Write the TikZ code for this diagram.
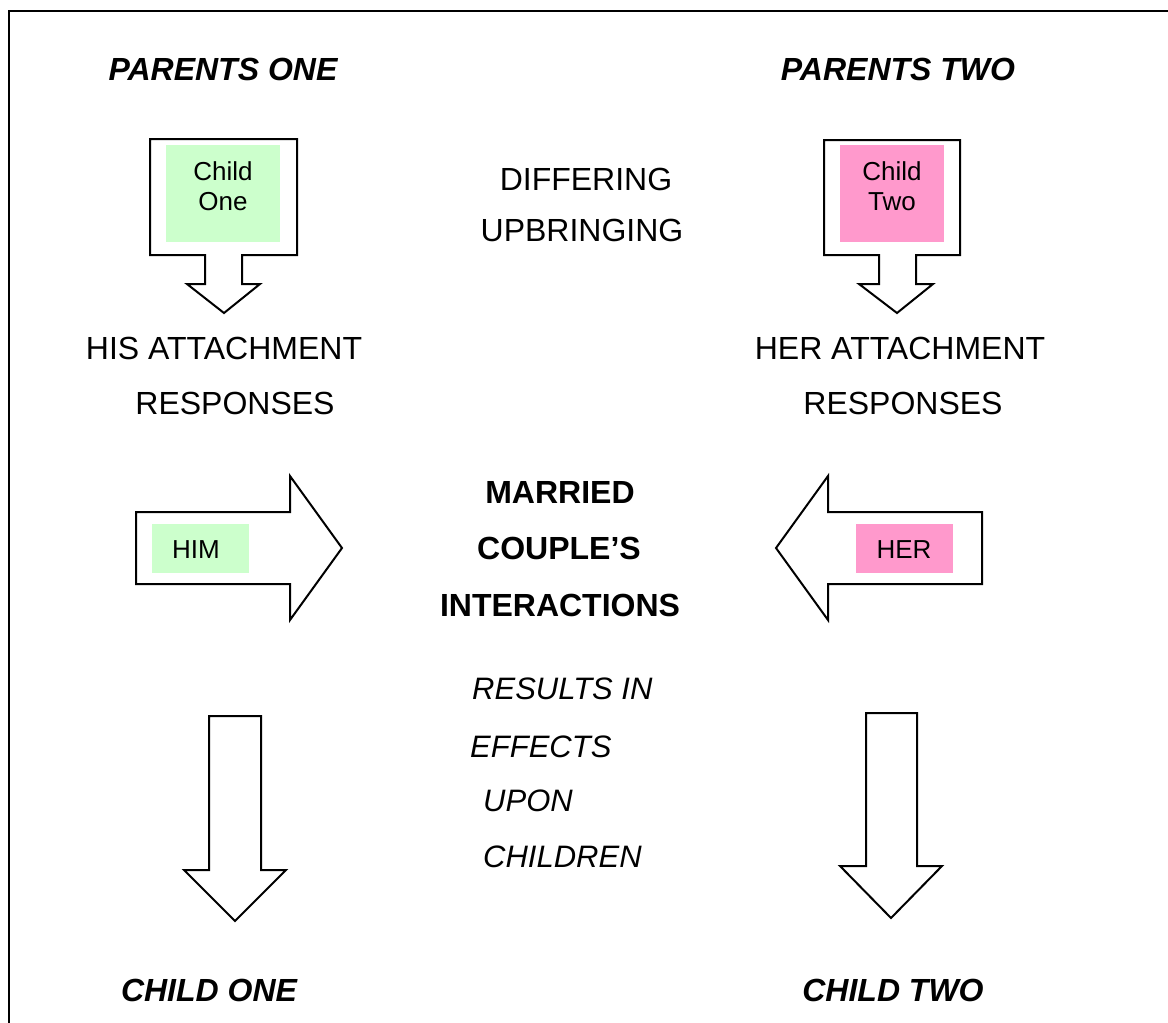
\documentclass[tikz,border=0pt]{standalone}
\usepackage{fontspec}
\setmainfont{Liberation Sans}
\definecolor{lgreen}{RGB}{204,255,204}
\definecolor{lpink}{RGB}{255,153,204}
\begin{document}
\begin{tikzpicture}[x=1pt,y=-1pt,
  big/.style={anchor=base,inner sep=0pt,font=\fontsize{32}{38}\selectfont},
  bigb/.style={big,font=\fontsize{32}{38}\selectfont\bfseries},
  bigbi/.style={big,font=\fontsize{32}{38}\selectfont\bfseries\itshape},
  bigi/.style={anchor=base west,inner sep=0pt,font=\fontsize{31}{38}\selectfont\itshape},
  small/.style={anchor=base,inner sep=0pt,font=\fontsize{26}{30}\selectfont},
  shp/.style={draw=black,line width=2pt,fill=white,line join=miter},
  frm/.style={draw=black,line width=2.5pt}]
\useasboundingbox (0,0) rectangle (1168,1023);
% frame
\draw[frm] (9,1023) -- (9,11) -- (1168,11);
% titles
\node[bigbi] (p1) at (223,80) {PARENTS ONE};
\node[bigbi] (p2) at (898,80) {PARENTS TWO};
% top callouts
\draw[shp] (150,139) -- (297,139) -- (297,255) -- (242,255) -- (242,284) -- (260,284) -- (224,313) -- (187,284) -- (205,284) -- (205,255) -- (150,255) -- cycle;
\fill[lgreen] (166,145) rectangle (280,242);
\node[small] (c1a) at (223,180) {Child};
\node[small] (c1b) at (223,210) {One};
\draw[shp] (824,140) -- (960,140) -- (960,255) -- (916,255) -- (916,284) -- (933,284) -- (897,313) -- (859,284) -- (879,284) -- (879,255) -- (824,255) -- cycle;
\fill[lpink] (840,145) rectangle (944,242);
\node[small] (c2a) at (892,180) {Child};
\node[small] (c2b) at (892,210) {Two};
% differing
\node[big] (d1) at (586,190) {DIFFERING};
\node[big] (d2) at (582,241) {UPBRINGING};
% attachment
\node[big] (h1) at (224,359) {HIS ATTACHMENT};
\node[big] (h2) at (235,414) {RESPONSES};
\node[big] (s1) at (900,359) {HER ATTACHMENT};
\node[big] (s2) at (903,414) {RESPONSES};
% middle arrows
\draw[shp] (136,512) -- (290,512) -- (290,476) -- (342,548) -- (290,620) -- (290,584) -- (136,584) -- cycle;
\fill[lgreen] (152,524) rectangle (249,573);
\node[small] (him) at (196,558) {HIM};
\draw[shp] (982,512) -- (828,512) -- (828,476) -- (776,548) -- (828,620) -- (828,584) -- (982,584) -- cycle;
\fill[lpink] (856,524) rectangle (953,573);
\node[small] (her) at (904,558) {HER};
% married
\node[bigb] (m1) at (560,503) {MARRIED};
\node[bigb] (m2) at (559,559) {COUPLE’S};
\node[bigb] (m3) at (560,616) {INTERACTIONS};
% results
\node[bigi] (r1) at (472,699) {RESULTS IN};
\node[bigi] (r2) at (470,757) {EFFECTS};
\node[bigi] (r3) at (483,811) {UPON};
\node[bigi] (r4) at (483,867) {CHILDREN};
% bottom arrows
\draw[shp] (209,716) -- (261,716) -- (261,870) -- (286,870) -- (235,921) -- (184,870) -- (209,870) -- cycle;
\draw[shp] (866,713) -- (917,713) -- (917,866) -- (942,866) -- (891,918) -- (840,866) -- (866,866) -- cycle;
% bottom titles
\node[bigbi] (k1) at (209,1001) {CHILD ONE};
\node[bigbi] (k2) at (893,1001) {CHILD TWO};
\end{tikzpicture}
\end{document}
